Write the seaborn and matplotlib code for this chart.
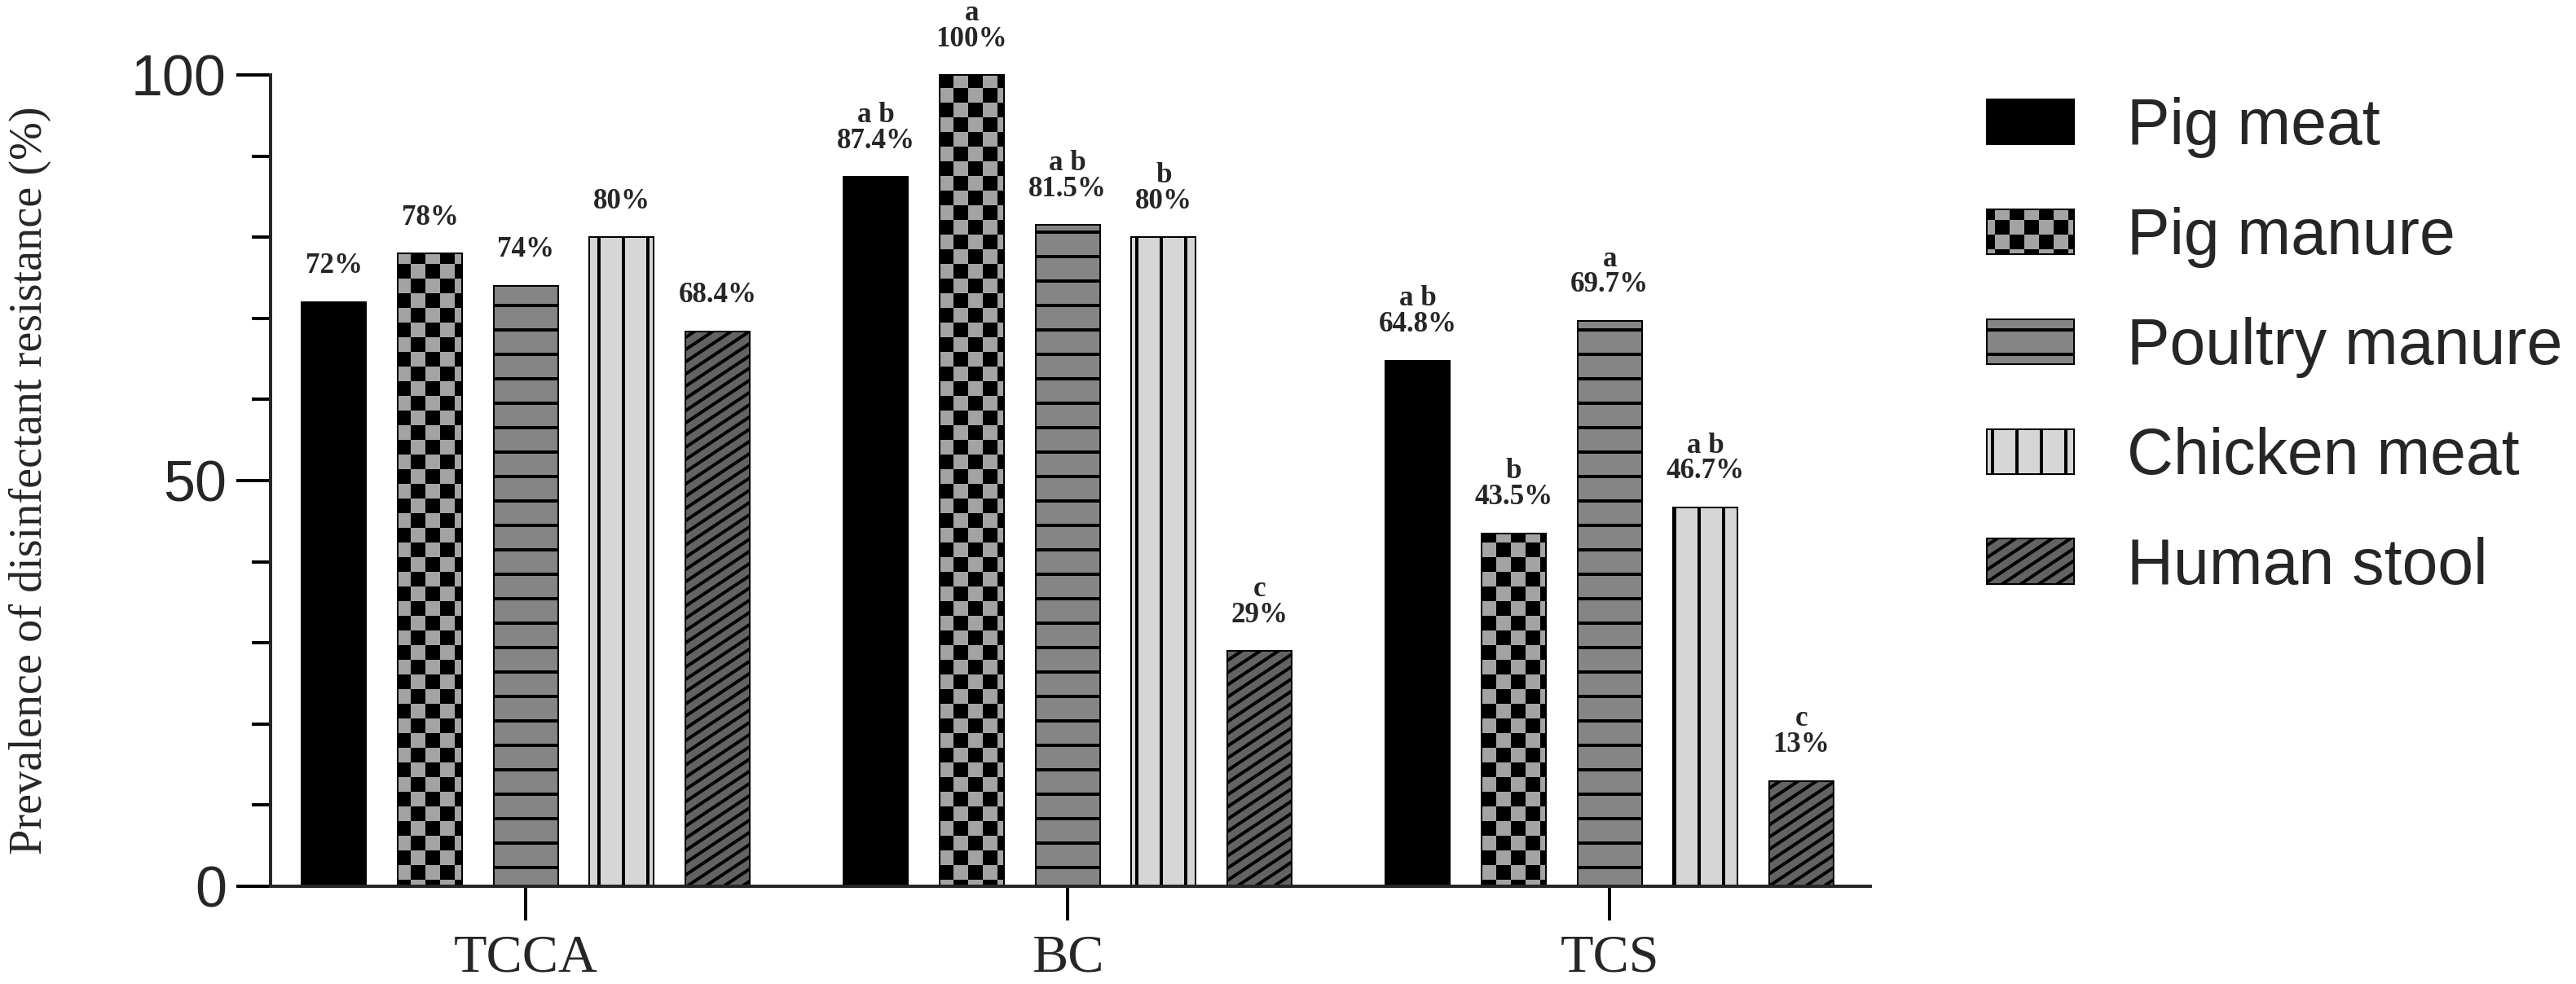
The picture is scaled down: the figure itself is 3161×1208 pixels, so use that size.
import numpy as np
import pandas as pd
import matplotlib
matplotlib.use('Agg')
import matplotlib.pyplot as plt
from matplotlib import hatch as mhatch
from matplotlib.path import Path
from matplotlib.ticker import MultipleLocator
import seaborn as sns

# ---- data ----
agents = ['TCCA', 'BC', 'TCS']
sources = ['Pig meat', 'Pig manure', 'Poultry manure', 'Chicken meat', 'Human stool']

pig_meat = [72, 87.4, 64.8]
pig_manure = [78, 100, 43.5]
poultry_manure = [74, 81.5, 69.7]
chicken_meat = [80, 80, 46.7]
human_stool = [68.4, 29, 13]

pig_meat_sig = ['', 'a b', 'a b']
pig_manure_sig = ['', 'a', 'b']
poultry_manure_sig = ['', 'a b', 'a']
chicken_meat_sig = ['', 'b', 'a b']
human_stool_sig = ['', 'c', 'c']

colors = ['#000000', '#a3a3a3', '#858585', '#d6d6d6', '#636363']
hatches = ['', '*', '-', '|', '/']

DPI = 180


# checkerboard hatch, takes the place of the star hatch
class CheckerHatch(mhatch.HatchPatternBase):
    def __init__(self, hatch, density):
        self.num_cells = hatch.count('*') * 10
        self.num_vertices = (self.num_cells ** 2 // 2) * 5

    def set_vertices_and_codes(self, vertices, codes):
        n = self.num_cells
        s = 1.0 / n
        inset = 2.0 / DPI
        squares = []
        for i in range(n):
            for j in range(n):
                if (i + j) % 2 == 0:
                    x0, y0 = i * s + inset, j * s + inset
                    x1, y1 = (i + 1) * s - inset, (j + 1) * s - inset
                    squares.append([[x0, y0], [x1, y0], [x1, y1], [x0, y1], [x0, y0]])
        vertices[:] = np.array(squares).reshape(-1, 2)
        codes[:] = np.tile([Path.MOVETO, Path.LINETO, Path.LINETO, Path.LINETO, Path.CLOSEPOLY], len(squares))


# shallower diagonal stripes (slope 2/3), takes the place of '/'
class ShallowDiagonalHatch(mhatch.HatchPatternBase):
    def __init__(self, hatch, density):
        self.steps = hatch.count('/') * 12
        self.num_vertices = (self.steps + 8 * hatch.count('/') + 1) * 2 if self.steps else 0

    def set_vertices_and_codes(self, vertices, codes):
        m = self.steps
        rise = 2.0 / 3.0
        cs = np.arange(-int(round(rise * m)), m + 1) / m
        segs = []
        for c in cs:
            segs.append([[0.0, c], [1.0, c + rise]])
        vertices[:] = np.array(segs).reshape(-1, 2)
        codes[:] = np.tile([Path.MOVETO, Path.LINETO], len(cs))


mhatch._hatch_types = [h for h in mhatch._hatch_types
                       if h not in (mhatch.Stars, mhatch.NorthEastHatch)] + [CheckerHatch, ShallowDiagonalHatch]

sns.set_style('ticks')
plt.rcParams['font.family'] = ['Liberation Sans', 'DejaVu Sans']
plt.rcParams['hatch.linewidth'] = 1.6
plt.rcParams['hatch.color'] = 'black'

df = pd.DataFrame({
    'agent': agents * 5,
    'source': np.repeat(sources, 3),
    'value': pig_meat + pig_manure + poultry_manure + chicken_meat + human_stool,
})
sig = pig_meat_sig + pig_manure_sig + poultry_manure_sig + chicken_meat_sig + human_stool_sig

fig = plt.figure(figsize=(3161 / DPI, 1208 / DPI), dpi=DPI)
ax = fig.add_axes([0.10503, 0.09934, 0.62101, 0.8245])

sns.barplot(data=df, x='agent', y='value', hue='source', order=agents, hue_order=sources,
            palette=colors, saturation=1, width=0.885, gap=0.33, errorbar=None,
            edgecolor='black', linewidth=0.8, legend=False, ax=ax)

for k, (cont, h) in enumerate(zip(ax.containers, hatches)):
    labs = sig[k * 3:(k + 1) * 3]
    for bar, s in zip(cont, labs):
        bar.set_hatch(h)
        bar.set_clip_on(False)
        v = bar.get_height()
        txt = f'{v:g}%' if s == '' else f'{s}\n{v:g}%'
        ax.annotate(txt, (bar.get_x() + bar.get_width() / 2, v), xytext=(0, 11),
                    textcoords='offset points', ha='center', va='bottom',
                    family='Liberation Serif', fontweight='bold', fontsize=14,
                    linespacing=0.95, annotation_clip=False)

ax.set_xlim(-0.471, 2.481)
ax.set_ylim(0, 100)
ax.set_yticks([0, 50, 100])
ax.yaxis.set_minor_locator(MultipleLocator(10))
sns.despine(ax=ax)
for sp in ['left', 'bottom']:
    ax.spines[sp].set_linewidth(1.6)

ax.tick_params(axis='both', which='major', direction='out', length=16.8, width=1.6, color='black')
ax.tick_params(axis='y', which='minor', direction='out', length=9.2, width=1.6, color='black')
ax.tick_params(axis='y', which='major', labelsize=28, pad=4.8)
ax.tick_params(axis='x', which='major', pad=7.0)
for t in ax.get_xticklabels():
    t.set_family('Liberation Serif')
    t.set_fontsize(26.5)

ax.set_xlabel('')
ax.set_ylabel('Prevalence of disinfectant resistance (%)', family='Liberation Serif', fontsize=22.5)
ax.yaxis.set_label_coords(-0.137, 0.5)

ax.legend(handles=ax.containers, labels=sources, loc='center left',
          bbox_to_anchor=(2438 / 3161, 0.647), bbox_transform=fig.transFigure,
          frameon=False, borderpad=0, borderaxespad=0, handlelength=1.36, handleheight=0.7,
          handletextpad=0.83, labelspacing=0.76, prop={'family': 'Liberation Sans', 'size': 31.5})

fig.savefig('out.png', dpi=DPI)
plt.close(fig)
